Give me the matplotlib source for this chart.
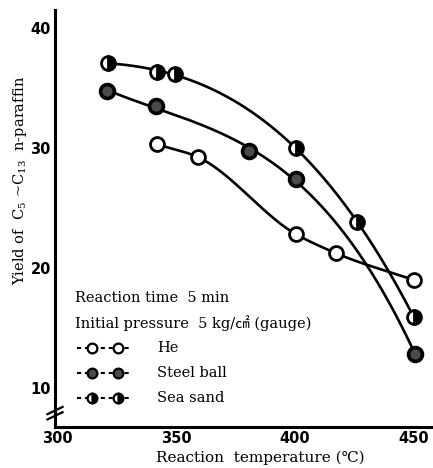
import numpy as np
import matplotlib
matplotlib.use("Agg")
import matplotlib.pyplot as plt

# ---- data ----
he_t = [342, 359, 400.5, 417, 450]
he_y = [30.3, 29.25, 22.8, 21.25, 19.0]
steel_t = [321, 341.5, 380.5, 400.5, 450.5]
steel_y = [34.75, 33.5, 29.75, 27.4, 12.8]
sand_t = [321.5, 342, 349.5, 400.5, 426, 450]
sand_y = [37.1, 36.3, 36.2, 30.0, 23.8, 15.9]

xticks = [300, 350, 400, 450]
yticks = [10, 20, 30, 40]

serif = ['DejaVu Serif', 'Noto Sans CJK JP']
plt.rcParams['font.family'] = serif
plt.rcParams['mathtext.fontset'] = 'dejavuserif'

fig = plt.figure(figsize=(4.33, 4.68), dpi=100)
ax = fig.add_axes([0.127, 0.0876, 0.873, 0.891])
ax.set_xlim(299, 458)
ax.set_ylim(6.75, 41.5)

lw = 1.9


def fitcurve(t, y, deg):
    c = np.polyfit(t, y, deg)
    tt = np.linspace(min(t), max(t), 300)
    return tt, np.polyval(c, tt)


def hermite(t, y, n=40):
    """Smooth curve through the points (cubic Hermite, three-point tangents)."""
    t = np.asarray(t, float)
    y = np.asarray(y, float)
    h = np.diff(t)
    d = np.diff(y) / h
    m = np.empty_like(y)
    m[0] = d[0]
    m[-1] = d[-1]
    for i in range(1, len(t) - 1):
        m[i] = (h[i] * d[i - 1] + h[i - 1] * d[i]) / (h[i - 1] + h[i])
    xs, ys = [], []
    for i in range(len(t) - 1):
        s = np.linspace(0, 1, n)
        h00 = 2 * s**3 - 3 * s**2 + 1
        h10 = s**3 - 2 * s**2 + s
        h01 = -2 * s**3 + 3 * s**2
        h11 = s**3 - s**2
        xs.append(t[i] + s * h[i])
        ys.append(h00 * y[i] + h10 * h[i] * m[i] + h01 * y[i + 1] + h11 * h[i] * m[i + 1])
    return np.concatenate(xs), np.concatenate(ys)


for tt, yy in (fitcurve(sand_t, sand_y, 3), fitcurve(steel_t, steel_y, 3), hermite(he_t, he_y)):
    ax.plot(tt, yy, color='black', lw=lw, zorder=2, solid_capstyle='round')

ms = 10
mew = 2.0
he_style = dict(marker='o', ms=ms, mfc='white', mec='black', mew=mew, ls='none')
steel_style = dict(marker='o', ms=ms, mfc='#4a4a4a', mec='black', mew=mew + 0.6, ls='none')
sand_style = dict(marker='o', ms=ms, mfc='black', mfcalt='white', fillstyle='right',
                  mec='black', mew=mew, ls='none')
ax.plot(he_t, he_y, zorder=3, **he_style)
ax.plot(steel_t, steel_y, zorder=3, **steel_style)
ax.plot(sand_t, sand_y, zorder=3, **sand_style)

# spines / ticks
for s in ['top', 'right']:
    ax.spines[s].set_visible(False)
for s in ['left', 'bottom']:
    ax.spines[s].set_linewidth(2.2)
ax.set_xticks(xticks)
ax.set_yticks(yticks)
ax.tick_params(length=0, pad=3)
for lab in ax.get_xticklabels() + ax.get_yticklabels():
    lab.set_family(['DejaVu Sans'])
    lab.set_fontweight('bold')
    lab.set_fontsize(10.5)

ax.set_xlabel('Reaction  temperature (℃)', fontsize=11)
ax.set_ylabel('Yield of  C$_5$ ~C$_{13}$  n-paraffin', fontsize=10.5)
ax.xaxis.label.set_verticalalignment('center')
ax.yaxis.label.set_verticalalignment('center')
ax.xaxis.set_label_coords(0.542, -0.074)
ax.yaxis.set_label_coords(-0.093, 0.592)

# axis break mark
for dy in (-0.22, 0.22):
    ax.plot([-0.02, 0.02], [7.9 + dy - 0.3, 7.9 + dy + 0.3], transform=ax.get_yaxis_transform(),
            color='black', lw=1.6, clip_on=False)

# legend-like annotation
fs = 10.5
ax.text(307.5, 17.5, 'Reaction time  5 min', fontsize=fs, va='center')
ax.text(307.5, 15.42, 'Initial pressure  5 kg/㎠ (gauge)', fontsize=fs, va='center')
rows = [(13.33, 'He', he_style), (11.25, 'Steel ball', steel_style), (9.17, 'Sea sand', sand_style)]
for yv, name, st in rows:
    ax.plot([308.3, 331.5], [yv, yv], color='black', lw=1.5, ls=(0, (2.0, 1.8)), zorder=2)
    s2 = dict(st)
    s2['ms'] = 7
    s2['mew'] = 1.6
    ax.plot([314.6, 325.6], [yv, yv], zorder=3, **s2)
    ax.text(342, yv, name, fontsize=fs, va='center')

fig.savefig('out.png', dpi=100)
